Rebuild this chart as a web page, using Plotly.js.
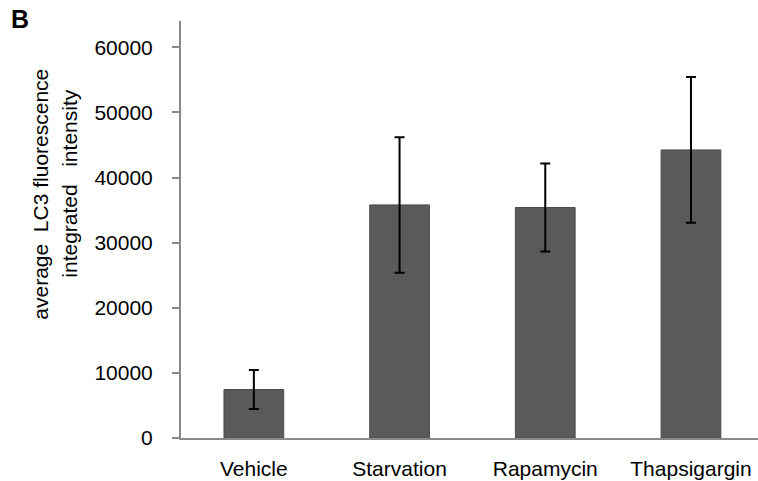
<!DOCTYPE html>
<html>
<head>
<meta charset="utf-8">
<script src="https://cdn.plot.ly/plotly-3.0.1.min.js"></script>
<style>html,body{margin:0;padding:0;background:#fff;}#chart{width:758px;height:481px;}</style>
</head>
<body>
<div id="chart"></div>
<script>
var categories = ["Vehicle", "Starvation", "Rapamycin", "Thapsigargin"];
var means = [7450, 35800, 35400, 44250];
var errors = [3000, 10400, 6750, 11200];
var yTickVals = [0, 10000, 20000, 30000, 40000, 50000, 60000];
var yTickText = ["0", "10000", "20000", "30000", "40000", "50000", "60000"];
var titleLine1 = "average\u00A0\u00A0LC3 fluorescence";
var titleLine2 = "integrated\u00A0\u00A0\u00A0intensity";

var font = "Liberation Sans, Arial, sans-serif";

var trace = {
  type: "bar",
  x: categories,
  y: means,
  width: 0.41,
  marker: {color: "#5a5a5a", line: {color: "#4d4d4d", width: 1}},
  error_y: {type: "data", array: errors, visible: true, color: "#000000", thickness: 2, width: 5},
  hoverinfo: "none"
};

var layout = {
  width: 758, height: 481,
  margin: {l: 181, r: 0, t: 21, b: 43, pad: 0},
  paper_bgcolor: "#ffffff", plot_bgcolor: "#ffffff",
  showlegend: false,
  font: {family: font, size: 21, color: "#000000"},
  xaxis: {
    type: "category",
    range: [-0.5, 3.46],
    showline: true, linecolor: "#8a8a8a", linewidth: 2,
    ticks: "", showgrid: false, zeroline: false,
    tickfont: {family: font, size: 21, color: "#000000"},
    ticklabelstandoff: 11
  },
  yaxis: {
    range: [0, 64050],
    tickvals: yTickVals, ticktext: yTickText,
    showline: true, linecolor: "#8a8a8a", linewidth: 2,
    ticks: "outside", ticklen: 7, tickcolor: "#8a8a8a", tickwidth: 2,
    showgrid: false, zeroline: false,
    tickfont: {family: font, size: 21, color: "#000000"},
    ticklabelstandoff: 15
  },
  annotations: [
    {text: "<b>B</b>", xref: "paper", yref: "paper", x: (20 - 181) / 577, y: (438.3 - 19) / 417,
     xanchor: "center", yanchor: "middle", showarrow: false, font: {family: font, size: 25, color: "#000"}},
    {text: titleLine1, xref: "paper", yref: "paper", x: (41 - 181) / 577, y: (438.3 - 195) / 417,
     xanchor: "center", yanchor: "middle", textangle: -90, showarrow: false, font: {family: font, size: 21, color: "#000"}},
    {text: titleLine2, xref: "paper", yref: "paper", x: (70 - 181) / 577, y: (438.3 - 184) / 417,
     xanchor: "center", yanchor: "middle", textangle: -90, showarrow: false, font: {family: font, size: 21, color: "#000"}}
  ]
};

Plotly.newPlot("chart", [trace], layout, {displayModeBar: false, staticPlot: true});
</script>
</body>
</html>
